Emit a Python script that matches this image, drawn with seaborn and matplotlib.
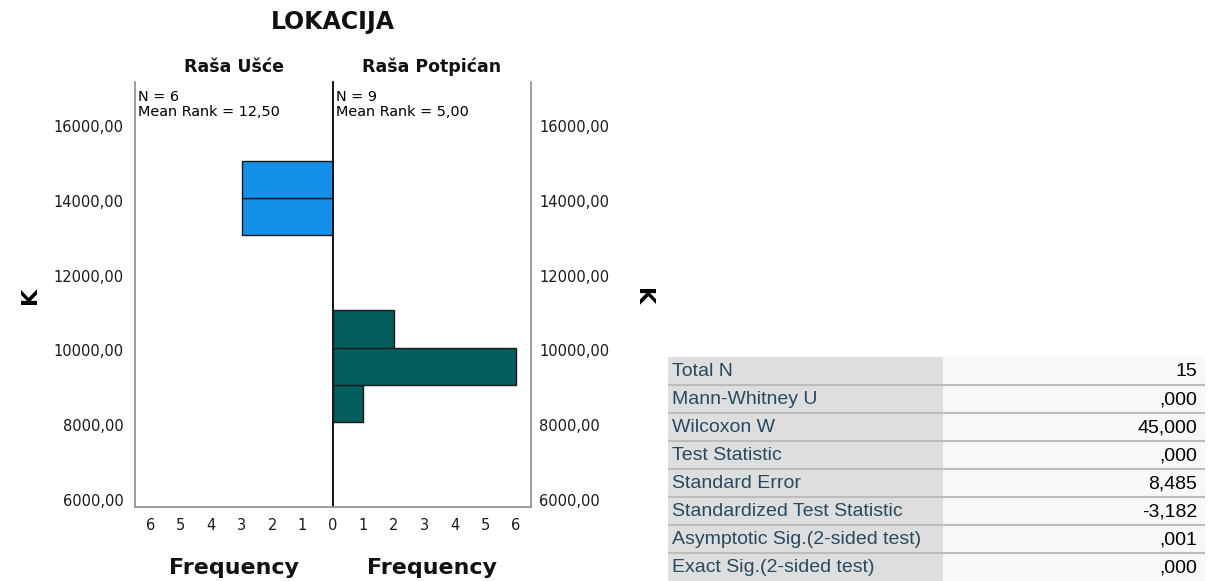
import matplotlib
matplotlib.use("Agg")
import matplotlib.pyplot as plt
from matplotlib.patches import Rectangle
import seaborn as sns

# Histogram bins of K for each location (bin edges and frequencies)
groups = ["Raša Ušće", "Raša Potpićan"]
edges_usce = [13075, 14075, 15075]
counts_usce = [3, 3]
edges_potpican = [8075, 9075, 10075, 11075]
counts_potpican = [1, 6, 2]
group_n = [6, 9]
mean_rank = ["12,50", "5,00"]
colors = ["#1490E8", "#015E5C"]

y_ticks = [6000, 8000, 10000, 12000, 14000, 16000]
x_ticks = [0, 1, 2, 3, 4, 5, 6]

# Mann-Whitney summary table
stat_labels = ["Total N", "Mann-Whitney U", "Wilcoxon W", "Test Statistic",
               "Standard Error", "Standardized Test Statistic",
               "Asymptotic Sig.(2-sided test)", "Exact Sig.(2-sided test)"]
stat_values = ["15", ",000", "45,000", ",000", "8,485", "-3,182", ",001", ",000"]

sns.set_theme(style="white")
plt.rcParams["font.family"] = ["DejaVu Sans"]

W, H = 1209, 581
fig = plt.figure(figsize=(W / 100, H / 100), dpi=100)


def fx(x):
    return x / W


def fy(y):
    return 1 - y / H


top, bottom = 82, 507
left_l, mid, right_r = 135, 333, 531
ax_l = fig.add_axes([fx(left_l), fy(bottom), fx(mid - left_l), (bottom - top) / H])
ax_r = fig.add_axes([fx(mid), fy(bottom), fx(right_r - mid), (bottom - top) / H])

mid_centers_u = [(a + b) / 2 for a, b in zip(edges_usce[:-1], edges_usce[1:])]
mid_centers_p = [(a + b) / 2 for a, b in zip(edges_potpican[:-1], edges_potpican[1:])]

sns.histplot(y=mid_centers_u, weights=counts_usce, bins=edges_usce, ax=ax_l,
             color=colors[0], alpha=1, edgecolor="#1a1a1a", linewidth=1)
sns.histplot(y=mid_centers_p, weights=counts_potpican, bins=edges_potpican, ax=ax_r,
             color=colors[1], alpha=1, edgecolor="#1a1a1a", linewidth=1)

ylo, yhi = 5813, 17176
fmt = [f"{v:.2f}".replace(".", ",") for v in y_ticks]
tick_font = dict(fontsize=10.5, color="#1a1a1a")

for ax in (ax_l, ax_r):
    ax.set_ylim(ylo, yhi)
    ax.set_yticks(y_ticks)
    ax.set_yticklabels(fmt, **tick_font)
    ax.set_xlabel("")
    ax.set_ylabel("")
    ax.tick_params(axis="both", length=0)
    ax.tick_params(axis="x", pad=8)
    ax.spines["top"].set_visible(False)
    for s in ax.spines.values():
        s.set_color("#8c8c8c")
        s.set_linewidth(1.2)
    ax.set_facecolor("none")

# shared zero sits on the centre line, labelled once
ax_l.set_xticks(x_ticks[1:])
ax_l.set_xticklabels([str(t) for t in x_ticks[1:]], **tick_font)
ax_r.set_xticks(x_ticks)
ax_r.set_xticklabels([str(t) for t in x_ticks], **tick_font)

ax_l.set_xlim(6.5, 0)
ax_r.set_xlim(0, 6.5)
ax_l.spines["right"].set_color("#000000")
ax_l.spines["right"].set_linewidth(1.3)
ax_r.spines["left"].set_visible(False)
ax_l.tick_params(axis="y", pad=8)
ax_r.yaxis.tick_right()
ax_r.tick_params(axis="y", pad=6, length=0)

# Group annotations
for i, x0 in enumerate([left_l, mid]):
    fig.text(fx(x0 + 3), fy(97), f"N = {group_n[i]}", fontsize=10.4,
             va="center", ha="left", color="#000000")
    fig.text(fx(x0 + 3), fy(112), f"Mean Rank = {mean_rank[i]}", fontsize=10.4,
             va="center", ha="left", color="#000000")

# Titles and axis labels
fig.text(fx(333), fy(22), "LOKACIJA", fontsize=17, fontweight="bold",
         ha="center", va="center", color="#111111")
for xc, name in zip([(left_l + mid) / 2, (mid + right_r) / 2], groups):
    fig.text(fx(xc), fy(67), name, fontsize=12.5, fontweight="bold",
             ha="center", va="center", color="#111111")
    fig.text(fx(xc), fy(568), "Frequency", fontsize=15.9, fontweight="bold",
             ha="center", va="center", color="#111111")

fig.text(fx(30), fy(295), "K", fontsize=16, fontweight="bold", rotation=90,
         ha="center", va="center", color="#000000")
fig.text(fx(643), fy(297), "K", fontsize=16, fontweight="bold", rotation=270,
         ha="center", va="center", color="#000000")

# Summary table drawn in pixel space
tab = fig.add_axes([0, 0, 1, 1])
tab.set_xlim(0, W)
tab.set_ylim(H, 0)
tab.axis("off")
tab.patch.set_alpha(0)

t_left, t_split, t_right = 668, 943, 1205
t_top, row_h = 357, 28
for i, (lab, val) in enumerate(zip(stat_labels, stat_values)):
    y0 = t_top + i * row_h
    tab.add_patch(Rectangle((t_left, y0), t_split - t_left, row_h,
                            facecolor="#DEDEDE", edgecolor="none"))
    tab.add_patch(Rectangle((t_split, y0), t_right - t_split, row_h,
                            facecolor="#F8F8FA", edgecolor="none"))
    if i > 0:
        tab.plot([t_left, t_right], [y0, y0], color="#BDBDBD", lw=1.5,
                 solid_capstyle="butt")
    yc = y0 + row_h / 2 + 1
    tab.text(t_left + 4, yc, lab, fontsize=14, family=["Liberation Sans"],
             color="#264A60", ha="left", va="center")
    tab.text(t_right - 8, yc, val, fontsize=14, family=["Liberation Sans"],
             color="#000000", ha="right", va="center")

fig.savefig("out.png", dpi=100, facecolor="white")
